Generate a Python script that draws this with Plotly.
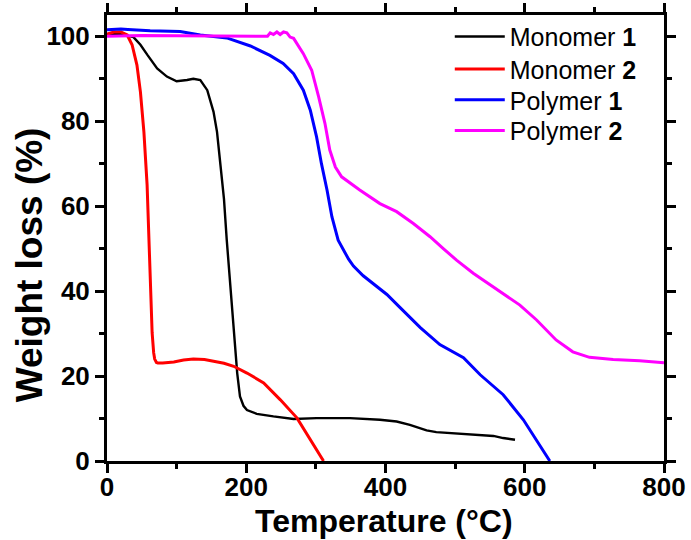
import plotly.graph_objects as go

# TGA curves: temperature (°C) vs. remaining weight (%)
monomer1_t = [0, 20, 38, 48, 58, 72, 86, 100, 115, 124, 134, 144, 153, 158, 163, 168,
              172, 175, 182, 187, 191, 196, 201, 215, 239, 268, 301, 349, 392, 416,
              435, 459, 473, 512, 555, 569, 586]
monomer1_w = [100.5, 100.5, 99.8, 98.0, 95.6, 92.4, 90.5, 89.4, 89.7, 90.0, 89.7, 87.3,
              82.2, 77.5, 69.6, 61.7, 52.0, 45.9, 30.2, 20.7, 15.2, 13.0, 12.0, 11.1,
              10.5, 9.9, 10.1, 10.1, 9.7, 9.3, 8.5, 7.2, 6.8, 6.4, 5.9, 5.4, 5.0]

monomer2_t = [0, 10, 20, 29, 36, 43, 48, 53, 57.6, 61.4, 64.8, 67, 68.5, 71, 73, 80,
              96, 110, 124, 140, 153, 168, 182, 201, 225, 249, 273, 292, 311]
monomer2_w = [100.5, 101.0, 101.0, 100.3, 98.0, 93.2, 86.9, 77.5, 65.0, 47.0, 30.2,
              25.5, 24.0, 23.2, 23.1, 23.1, 23.3, 23.8, 24.0, 23.9, 23.5, 23.0, 22.3,
              20.7, 18.4, 14.4, 10.1, 5.0, 0.0]

polymer1_t = [0, 20, 30, 62, 105, 134, 172, 206, 234, 253, 268, 282, 292, 301, 308,
              316, 323, 332, 347, 354, 368, 402, 421, 450, 478, 512, 536, 569, 598,
              617, 636]
polymer1_w = [101.5, 101.7, 101.6, 101.3, 101.1, 100.3, 99.6, 97.7, 95.5, 93.6, 91.2,
              87.3, 82.6, 76.3, 70.0, 63.8, 57.5, 52.0, 47.5, 45.9, 43.6, 39.2, 36.1,
              31.4, 27.4, 24.3, 20.3, 15.6, 9.7, 5.0, 0.0]

polymer2_t = [0, 50, 100, 150, 200, 230.5, 234.4, 239.1, 244, 248.7, 253.5, 258.3, 263,
              268, 282, 294, 304, 313, 320, 328, 337, 363, 392, 416, 440, 464, 483,
              502, 526, 559, 593, 617, 645, 669, 693, 727, 765, 800]
polymer2_w = [100.0, 100.2, 100.1, 100.0, 100.0, 100.0, 100.8, 100.4, 101.0, 100.4,
              101.0, 100.8, 99.8, 99.5, 95.9, 92.0, 85.7, 79.5, 73.2, 69.2, 66.9, 63.8,
              60.6, 58.7, 55.9, 52.8, 50.0, 47.3, 44.2, 40.6, 36.7, 33.2, 28.5, 25.7,
              24.4, 23.9, 23.6, 23.1]

series = [
    ("Monomer <b>1</b>", monomer1_t, monomer1_w, "#000000", 2.4),
    ("Monomer <b>2</b>", monomer2_t, monomer2_w, "#ff0000", 3),
    ("Polymer <b>1</b>", polymer1_t, polymer1_w, "#0000ff", 3),
    ("Polymer <b>2</b>", polymer2_t, polymer2_w, "#ff00ff", 3),
]

x_ticks = [0, 200, 400, 600, 800]
y_ticks = [0, 20, 40, 60, 80, 100]

FONT = "Liberation Sans, Arial, sans-serif"
legend_font = dict(family=FONT, size=25, color="black")

fig = go.Figure()
legend_ids = ["legend", "legend2", "legend3", "legend4"]
for (name, t, w, color, lw), lid in zip(series, legend_ids):
    fig.add_trace(go.Scatter(x=t, y=w, mode="lines", name=name, legend=lid,
                             line=dict(color=color, width=lw)))

axis_common = dict(
    showline=True, linecolor="black", linewidth=3, mirror="allticks",
    ticks="outside", ticklen=9, tickwidth=2.5, tickcolor="black",
    showgrid=False, zeroline=False, automargin=False,
    tickfont=dict(family=FONT, size=26, color="black", weight="bold"),
)

fig.update_xaxes(range=[0, 800], tickvals=x_ticks, ticklabelstandoff=-8,
                 minor=dict(dtick=100, ticks="outside", ticklen=5, tickwidth=2.5,
                            tickcolor="black", showgrid=False),
                 **axis_common)
fig.update_yaxes(range=[0, 105], tickvals=y_ticks,
                 minor=dict(dtick=10, ticks="outside", ticklen=5, tickwidth=2.5,
                            tickcolor="black", showgrid=False),
                 **axis_common)

fig.add_annotation(text="Temperature (°C)", xref="paper", yref="paper",
                   x=0.497, y=-0.135, xanchor="center", yanchor="middle",
                   showarrow=False,
                   font=dict(family=FONT, size=32, color="black", weight="bold"))
fig.add_annotation(text="Weight loss (%)", xref="paper", yref="paper",
                   x=-0.139, y=0.44, xanchor="center", yanchor="middle",
                   textangle=-90, showarrow=False,
                   font=dict(family=FONT, size=37, color="black", weight="bold"))

# one single-entry legend per row, stacked down the upper right corner
row_px = [36.7, 69.3, 100.0, 130.7]
legend_layout = {}
for lid, py in zip(legend_ids, row_px):
    legend_layout[lid] = dict(
        x=0.6154, y=(461 - py) / 446, xanchor="left", yanchor="middle",
        bgcolor="rgba(0,0,0,0)", borderwidth=0, font=legend_font, itemwidth=50,
    )

fig.update_layout(
    width=691, height=540,
    margin=dict(l=107, r=27, t=15, b=79, autoexpand=False),
    plot_bgcolor="white", paper_bgcolor="white",
    showlegend=True,
    **legend_layout,
)

fig.write_html("out.html")
